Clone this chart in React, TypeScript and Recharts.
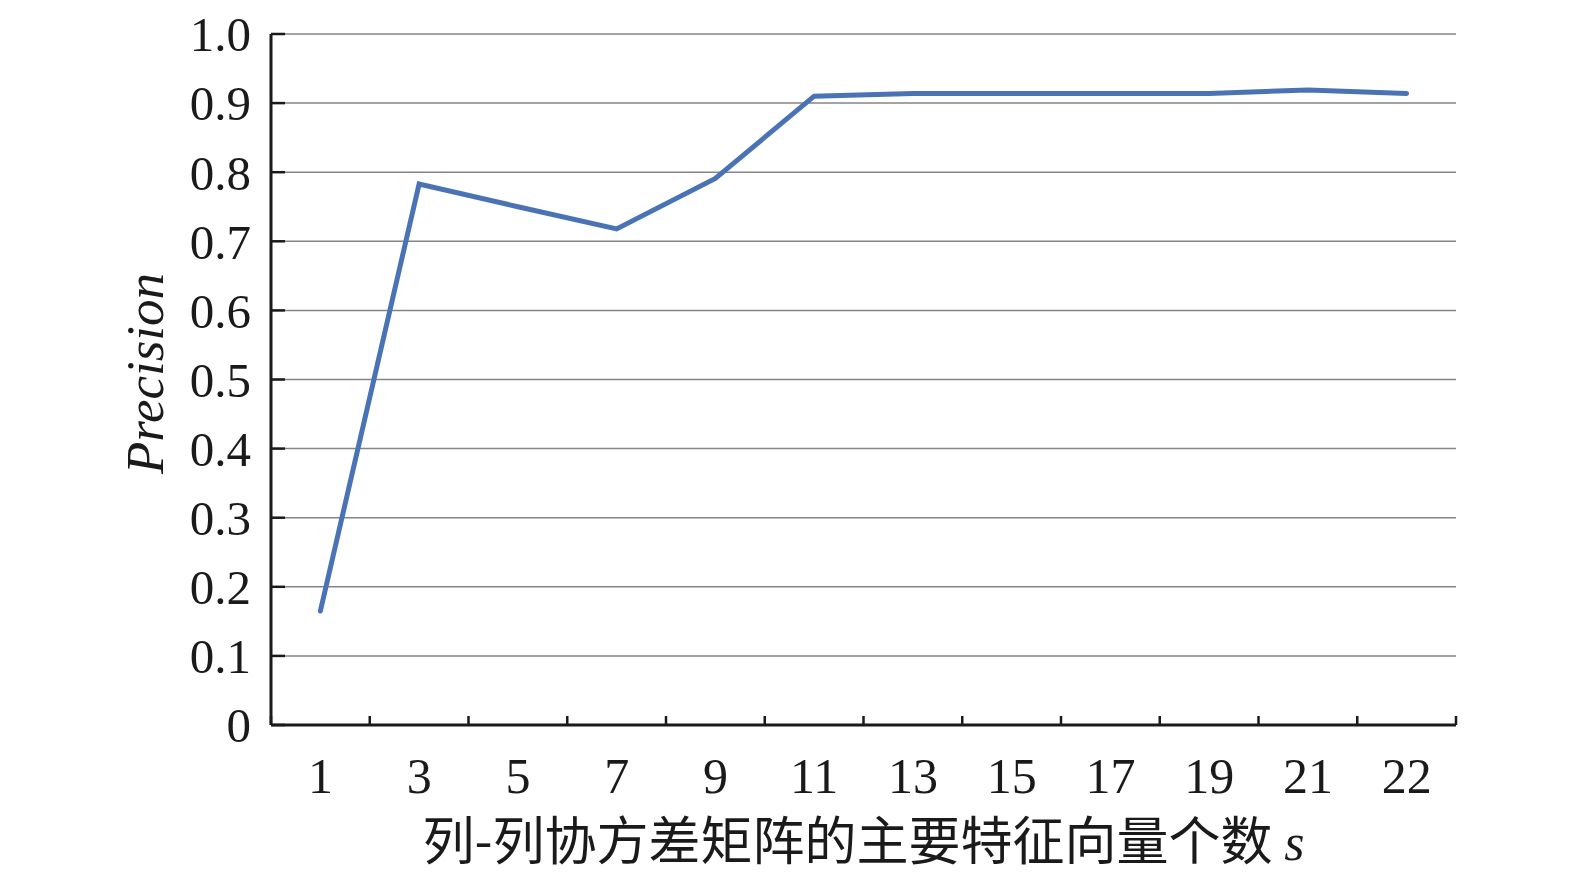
import React from 'react';
import { LineChart, Line, XAxis, YAxis, CartesianGrid, Label } from 'recharts';

// number of principal eigenvectors s (category labels on the x axis)
const categories = ['1', '3', '5', '7', '9', '11', '13', '15', '17', '19', '21', '22'];
// precision
const precision = [0.165, 0.783, 0.75, 0.718, 0.791, 0.91, 0.914, 0.914, 0.914, 0.914, 0.919, 0.914];
const yTicks = [0, 0.1, 0.2, 0.3, 0.4, 0.5, 0.6, 0.7, 0.8, 0.9, 1.0];

const data = categories.map((s, i) => ({ s, precision: precision[i] }));
// boundaries between the category bands, where the small tick marks sit
const bandEdges = categories.map((_, i) => i).concat(categories.length);

const serif = "'Liberation Serif', 'Times New Roman', serif";
const cjk = "'Noto Sans CJK SC', 'Noto Sans CJK JP', sans-serif";
const ink = '#1a1a1a';

const NoLabel = () => <g />;

const XTitle = ({ viewBox }: any) => {
  const cx = viewBox.x + viewBox.width / 2;
  return (
    <text x={cx} y={viewBox.y + 134} textAnchor='middle' fill={ink} fontSize={52}>
      <tspan fontFamily={cjk}>列-列协方差矩阵的主要特征向量个数 </tspan>
      <tspan fontFamily={serif} fontStyle='italic'>s</tspan>
    </text>
  );
};

const YTitle = ({ viewBox }: any) => {
  const x = 163;
  const y = viewBox.y + viewBox.height / 2 - 6;
  return (
    <text
      x={x}
      y={y}
      transform={`rotate(-90, ${x}, ${y})`}
      textAnchor='middle'
      fill={ink}
      fontSize={53}
      fontFamily={serif}
      fontStyle='italic'
    >
      Precision
    </text>
  );
};

export default function App() {
  return (
    <div style={{ position: 'absolute', left: 0, top: 0, background: '#fff' }}>
      <LineChart
        width={1575}
        height={876}
        data={data}
        margin={{ top: 34, right: 119, bottom: 0, left: 0 }}
      >
        <CartesianGrid vertical={false} stroke='#858585' strokeWidth={1.5} />
        {/* frame axis: black baseline with small ticks on the band edges */}
        <XAxis
          dataKey='edge'
          type='number'
          domain={[0, categories.length]}
          ticks={bandEdges}
          interval={0}
          allowDataOverflow
          height={1}
          tick={NoLabel}
          tickSize={-9}
          axisLine={{ stroke: ink, strokeWidth: 3 }}
          tickLine={{ stroke: ink, strokeWidth: 2.5 }}
        />
        <XAxis
          xAxisId='cat'
          dataKey='s'
          scale='band'
          height={150}
          axisLine={false}
          tickLine={false}
          tickSize={0}
          tickMargin={31}
          interval={0}
          tick={{ fontSize: 50, fontFamily: serif, fill: ink }}
        >
          <Label content={XTitle} />
        </XAxis>
        <YAxis
          width={271}
          domain={[0, 1]}
          ticks={yTicks}
          interval={0}
          tickFormatter={(v: number) => (v === 0 ? '0' : v.toFixed(1))}
          tickSize={-14}
          tickMargin={34}
          axisLine={{ stroke: ink, strokeWidth: 3 }}
          tickLine={{ stroke: ink, strokeWidth: 2.5 }}
          tick={{ fontSize: 49, fontFamily: serif, fill: ink }}
        >
          <Label content={YTitle} />
        </YAxis>
        <Line
          xAxisId='cat'
          type='linear'
          dataKey='precision'
          stroke='#4a73b6'
          strokeWidth={5}
          strokeLinecap='round'
          dot={false}
          activeDot={false}
          isAnimationActive={false}
        />
      </LineChart>
    </div>
  );
}
